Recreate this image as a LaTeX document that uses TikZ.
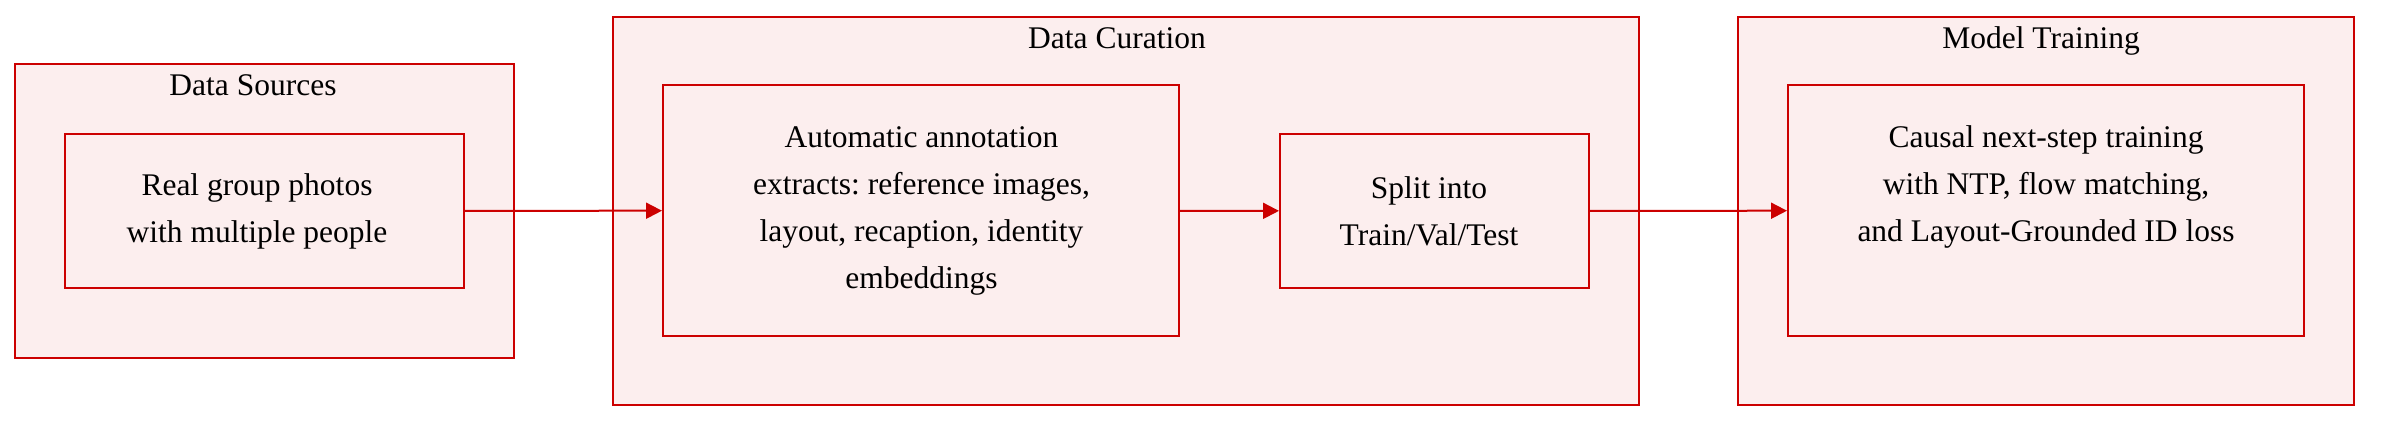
\documentclass[tikz,border=0pt]{standalone}
\usepackage{fontspec}
\setmainfont{Liberation Serif}
\usetikzlibrary{arrows.meta}
\definecolor{boxred}{HTML}{CC0000}
\definecolor{boxfill}{HTML}{FCEEEE}
\frenchspacing

\begin{document}
\begin{tikzpicture}[x=0.5pt, y=-0.5pt, font=\fontsize{15.75}{23.5}\selectfont]
      \useasboundingbox (0,0) rectangle (2386,424);

      \begin{scope}[every node/.style={rectangle, draw=boxred, fill=boxfill, line width=1pt, inner sep=0pt}]
        \node[minimum width=249.5pt, minimum height=147pt] (sources)  at (264.5,211) {};
        \node[minimum width=513pt,   minimum height=194pt] (curation) at (1126,211)  {};
        \node[minimum width=308pt,   minimum height=194pt] (training) at (2046,211)  {};
        \node[minimum width=199.5pt, minimum height=77pt]  (photos)   at (264.5,211) {};
        \node[minimum width=258pt,   minimum height=125.5pt] (annotate) at (921,210.5) {};
        \node[minimum width=154.5pt, minimum height=77pt]  (split)    at (1434.5,211) {};
        \node[minimum width=258pt,   minimum height=125.5pt] (causal) at (2046,210.5) {};
      \end{scope}

      \begin{scope}[every node/.style={align=center, inner sep=0pt}]
        \node[anchor=base] (sourcestitle)  at (253,95)  {Data Sources};
        \node[anchor=base] (curationtitle) at (1117,48) {Data Curation};
        \node[anchor=base] (trainingtitle) at (2041,48) {Model Training};
        \node (photostext)   at (257,211)    {Real group photos\\with multiple people};
        \node (annotatetext) at (921.5,211)  {Automatic annotation\\extracts: reference images,\\layout, recaption, identity\\embeddings};
        \node (splittext)    at (1429,211)   {Split into\\Train/Val/Test};
        \node (causaltext)   at (2046,187)   {Causal next-step training\\with NTP, flow matching,\\and Layout-Grounded ID loss};
      \end{scope}

      \begin{scope}[every edge/.style={draw=boxred, line width=1pt, -{Triangle[length=8pt,width=8pt]}}]
        \path (photos)   edge (annotate);
        \path (annotate) edge (split);
        \path (split)    edge (causal);
      \end{scope}

    \end{tikzpicture}
\end{document}
